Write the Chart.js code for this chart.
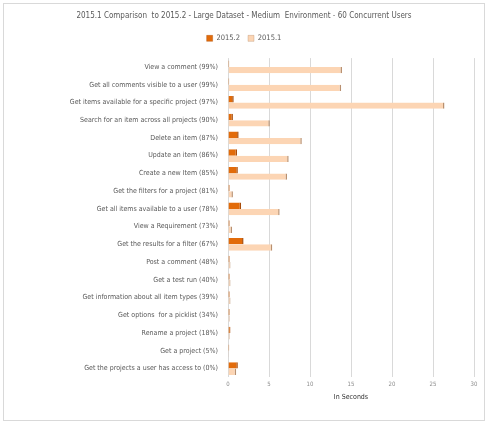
<!DOCTYPE html>
<html>
<head>
<meta charset="utf-8">
<script src="https://cdn.jsdelivr.net/npm/chart.js@4.4.1/dist/chart.umd.min.js"></script>
<style>
  html, body { margin: 0; padding: 0; background: #fff; }
  #wrap { position: relative; width: 490px; height: 428px; }
  #frame { position: absolute; left: 3px; top: 3px; width: 482px; height: 418px; border: 1px solid #d9d9d9; box-sizing: border-box; }
  canvas { position: absolute; left: 0; top: 0; }
</style>
</head>
<body>
<div id="wrap">
  <div id="frame"></div>
  <canvas id="chart" width="490" height="428"></canvas>
</div>
<script>
/* ---- data ---- */
const categories = [
  'View a comment (99%)',
  'Get all comments visible to a user (99%)',
  'Get items available for a specific project (97%)',
  'Search for an item across all projects (90%)',
  'Delete an item (87%)',
  'Update an item (86%)',
  'Create a new Item (85%)',
  'Get the filters for a project (81%)',
  'Get all items available to a user (78%)',
  'View a Requirement (73%)',
  'Get the results for a filter (67%)',
  'Post a comment (48%)',
  'Get a test run (40%)',
  'Get information about all item types (39%)',
  'Get options  for a picklist (34%)',
  'Rename a project (18%)',
  'Get a project (5%)',
  'Get the projects a user has access to (0%)'
];
const v2015_2 = [0.15, 0.15, 0.7, 0.6, 1.3, 1.1, 1.2, 0.2, 1.6, 0.2, 1.9, 0.2, 0.2, 0.2, 0.2, 0.3, 0.15, 1.2];
const v2015_1 = [13.9, 13.8, 26.4, 5.1, 9.0, 7.4, 7.2, 0.6, 6.3, 0.5, 5.4, 0.3, 0.3, 0.3, 0.2, 0.2, 0.1, 1.0];
const xTicks  = [0, 5, 10, 15, 20, 25, 30];

const FONT = "'DejaVu Sans Condensed', 'Open Sans', sans-serif";

/* extra space between the legend and the plot */
const legendGap = {
  id: 'legendGap',
  afterInit(chart) {
    const lg = chart.legend;
    if (!lg) return;
    const fit = lg.fit;
    lg.fit = function () { fit.call(this); this.height += 6; };
  },
};

new Chart(document.getElementById('chart'), {
  type: 'bar',
  data: {
    labels: categories,
    datasets: [
      {
        label          : '2015.2',
        data           : v2015_2,
        backgroundColor: '#e26b0a',
        borderColor    : '#a84b08',
        borderWidth    : { right: 1.5 },
        barPercentage  : 1.0,
        categoryPercentage: 0.72,
      },
      {
        label          : '2015.1',
        data           : v2015_1,
        backgroundColor: '#fcd5b4',
        borderColor    : '#b89070',
        borderWidth    : { right: 1.5 },
        barPercentage  : 1.0,
        categoryPercentage: 0.72,
      },
    ],
  },
  plugins: [legendGap],
  options: {
    indexAxis: 'y',
    responsive: false,
    animation: false,
    layout: { padding: { left: 14, right: 16, top: 5, bottom: 27 } },
    plugins: {
      title: {
        display: true,
        text   : '2015.1 Comparison  to 2015.2 - Large Dataset - Medium  Environment - 60 Concurrent Users',
        color  : '#595959',
        font   : { family: FONT, size: 8, weight: 'normal' },
        padding: { top: 6, bottom: 6 },
      },
      legend: {
        position: 'top',
        labels: { boxWidth: 6, boxHeight: 6, padding: 8, color: '#595959', font: { family: FONT, size: 7.5 } },
      },
      tooltip: { enabled: false },
    },
    scales: {
      x: {
        min: 0, max: 30,
        afterBuildTicks: s => { s.ticks = xTicks.map(v => ({ value: v })); },
        ticks : { color: '#8c8c8c', font: { family: FONT, size: 6 }, padding: 3 },
        grid  : { color: '#d9d9d9', drawTicks: false },
        border: { display: false },
        title : { display: true, text: 'In Seconds', color: '#303030', font: { family: FONT, size: 7 }, padding: { top: 2, bottom: 0 } },
      },
      y: {
        afterFit: s => { s.width = 214; },
        ticks : { color: '#595959', font: { family: FONT, size: 7 }, padding: 10, autoSkip: false },
        grid  : { display: false, drawTicks: false },
        border: { display: false },
      },
    },
  },
});
</script>
</body>
</html>
